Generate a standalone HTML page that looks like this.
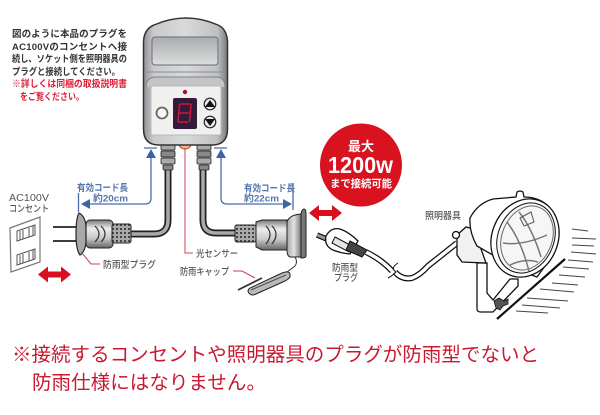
<!DOCTYPE html>
<html lang="ja">
<head>
<meta charset="utf-8">
<style>
html,body{margin:0;padding:0;background:#fff;width:600px;height:415px;overflow:hidden}
svg{display:block}
text{font-family:"Liberation Sans","Noto Sans CJK JP",sans-serif}
</style>
</head>
<body>
<svg xmlns="http://www.w3.org/2000/svg" width="600" height="415" viewBox="0 0 600 415">
<defs>
<linearGradient id="dev" x1="0" x2="1" y1="0" y2="0"><stop offset="0" stop-color="#8f9194"/><stop offset=".12" stop-color="#c9cacc"/><stop offset=".5" stop-color="#d8d9da"/><stop offset=".88" stop-color="#bfc0c2"/><stop offset="1" stop-color="#77797c"/></linearGradient>
<linearGradient id="rec" x1="0" x2="0" y1="0" y2="1"><stop offset="0" stop-color="#a9abad"/><stop offset="1" stop-color="#dcdddd"/></linearGradient>
<linearGradient id="pl" x1="0" x2="0" y1="0" y2="1"><stop offset="0" stop-color="#777"/><stop offset=".3" stop-color="#ececec"/><stop offset=".65" stop-color="#c8c8c8"/><stop offset="1" stop-color="#666"/></linearGradient>
<linearGradient id="sock" x1="0" x2="1" y1="0" y2="0"><stop offset="0" stop-color="#a8a8a8"/><stop offset=".5" stop-color="#e2e2e2"/><stop offset="1" stop-color="#7a7a7a"/></linearGradient>
<pattern id="grip" width="4" height="4" patternUnits="userSpaceOnUse"><rect width="4" height="4" fill="#aaa"/><rect width="2" height="2" fill="#444"/></pattern>
</defs>

<!-- cables -->
<path d="M168 168V220Q168 234 154 234H129" fill="none" stroke="#222" stroke-width="7"/>
<path d="M168 168V220Q168 234 154 234H129" fill="none" stroke="#aaa" stroke-width="3.500"/>
<path d="M203 168V220Q203 233 216 233H237" fill="none" stroke="#222" stroke-width="7"/>
<path d="M203 168V220Q203 233 216 233H237" fill="none" stroke="#aaa" stroke-width="3.500"/>

<!-- cable grips at device -->
<g stroke="#222" stroke-width=".8">
<rect x="161" y="144" width="14" height="6" rx="1" fill="#aaa"/><rect x="161" y="151" width="14" height="6" rx="1" fill="#888"/><rect x="161" y="158" width="14" height="6" rx="1" fill="#aaa"/><rect x="163" y="165" width="10" height="5" rx="1" fill="#888"/>
<rect x="197" y="144" width="14" height="6" rx="1" fill="#aaa"/><rect x="197" y="151" width="14" height="6" rx="1" fill="#888"/><rect x="197" y="158" width="14" height="6" rx="1" fill="#aaa"/><rect x="199" y="165" width="10" height="5" rx="1" fill="#888"/>
</g>
<path d="M179 144a6 5 0 0 0 12 0z" fill="#eeb894" stroke="#b5532f"/>

<!-- device -->
<path d="M143.500 42Q144 29 154 25Q186 11 218 25Q227 29 227.500 42V129Q227.500 145 212 145H159Q143.500 145 143.500 129Z" fill="url(#dev)" stroke="#333" stroke-width="1.500"/>
<rect x="152" y="37" width="66" height="28" rx="3" fill="url(#rec)" stroke="#6a6c6e"/>
<path d="M144 72H227" stroke="#8b8d90" stroke-width="1"/>
<path d="M146 87Q146 77 156 77H216Q225 77 225 87" fill="#c3c4c6" stroke="#808285"/>
<rect x="151" y="86" width="70" height="49" rx="2" fill="#f0f0ef" stroke="#b9babb"/>
<circle cx="185" cy="92" r="2.200" fill="#a5122a"/>
<rect x="173" y="98" width="24" height="31" rx="2" fill="#351a3a"/>
<path d="M180 104H191M179.500 104L178 122M178 122H188M179 113H189M191 104L189.500 122" stroke="#c01c3c" stroke-width="1.500" fill="none"/>
<circle cx="162" cy="113" r="5.500" fill="#f8f8f8" stroke="#666" stroke-width="1.800"/>
<circle cx="210" cy="104" r="5.800" fill="#e8e8e8" stroke="#222" stroke-width="1.200"/>
<path d="M210 100L215 107H205Z" fill="#111"/>
<circle cx="210" cy="122" r="5.800" fill="#e8e8e8" stroke="#222" stroke-width="1.200"/>
<path d="M210 126L215 119H205Z" fill="#111"/>

<!-- blue dimension lines -->
<g stroke="#4a6cac" fill="none" stroke-width="1.300">
<path d="M144 148H157M214 148H227"/>
<path d="M151 156V198Q151 204 145 204H88"/>
<path d="M221 156V198Q221 204 227 204H285"/>
<path d="M78.500 193V212M293 183V210"/>
</g>
<g fill="#3f63a8">
<path d="M151 149L156 158H146Z"/><path d="M221 149L226 158H216Z"/>
<path d="M81 204L90 199V209Z"/><path d="M292 204L283 199V209Z"/>
</g>
<g font-size="9.500" font-weight="700" fill="#5475b0">
<text x="77" y="191" textLength="51" lengthAdjust="spacingAndGlyphs">有効コード長</text>
<text x="93" y="201.500" textLength="35" lengthAdjust="spacingAndGlyphs">約20cm</text>
<text x="244" y="191.500" textLength="51" lengthAdjust="spacingAndGlyphs">有効コード長</text>
<text x="244" y="201.500" textLength="35" lengthAdjust="spacingAndGlyphs">約22cm</text>
</g>

<!-- left plug -->
<path d="M53 227H78M53 241H78" stroke="#222" stroke-width="1.800"/>
<rect x="86" y="220" width="27" height="28" rx="4" fill="url(#pl)" stroke="#222"/>
<path d="M95 226Q103 234 95 242M101 226Q109 234 101 242" fill="none" stroke="#333" stroke-width="1.200"/>
<rect x="112" y="224" width="19" height="19" rx="2" fill="url(#grip)" stroke="#222"/>
<path d="M79 213Q85 216 86 226V242Q85 252 80 255Q76 250 76 234Q76 218 79 213Z" fill="#a8a8a8" stroke="#222" stroke-width="1.200"/>

<!-- outlet -->
<path d="M10 228L40 217V262L11 272Z" fill="#fff" stroke="#777" stroke-width="1.200"/>
<g fill="#fff" stroke="#555" stroke-width="1">
<path d="M17 231L35 225V235L17 241Z"/>
<path d="M17 255L35 249V259L17 265Z"/>
<path d="M20 231V240M23 230V239M29 228V237M33 226V236M20 255V264M23 254V263M29 252V261M33 250V260"/>
</g>

<!-- red double arrows -->
<g fill="#d90f1f">
<path d="M38 274.500L48 266.500V271.500H61V266.500L71 274.500L61 282.500V277.500H48V282.500Z"/>
<path d="M309 213L319 205V210H332V205L342 213L332 221V216H319V221Z"/>
</g>

<!-- labels -->
<g font-size="9.500" fill="#555" font-weight="500">
<text x="9" y="201" textLength="40" lengthAdjust="spacingAndGlyphs" font-size="10.500">AC100V</text>
<text x="9" y="212" textLength="40" lengthAdjust="spacingAndGlyphs">コンセント</text>
<text x="103" y="268" textLength="53" lengthAdjust="spacingAndGlyphs">防雨型プラグ</text>
<text x="196" y="257" textLength="42" lengthAdjust="spacingAndGlyphs">光センサー</text>
<text x="180" y="275" textLength="49" lengthAdjust="spacingAndGlyphs">防雨キャップ</text>
<text x="332" y="271" textLength="26" lengthAdjust="spacingAndGlyphs">防雨型</text>
<text x="334" y="281" textLength="24" lengthAdjust="spacingAndGlyphs">プラグ</text>
<text x="425" y="219" textLength="36" lengthAdjust="spacingAndGlyphs">照明器具</text>
</g>

<!-- red leaders -->
<g fill="none" stroke="#d0405a" stroke-width="1">
<path d="M185 148V253H193"/>
<path d="M82 253L91 264H100"/>
<path d="M233 271H242L255 278"/>
</g>

<!-- right socket -->
<rect x="235" y="225" width="21" height="17" rx="2" fill="url(#grip)" stroke="#222"/>
<path d="M256 222L262 220H287V250H262L256 247Z" fill="url(#pl)" stroke="#222"/>
<path d="M266 226Q274 234 266 244M272 226Q280 234 272 244" fill="none" stroke="#333" stroke-width="1.200"/>
<path d="M287 222Q289 215 301 214V257H290Q287 256 287 250Z" fill="url(#sock)" stroke="#222"/>
<path d="M301 214Q302 209 304 209Q306 209 306 214V256Q306 258 301 258Z" fill="#777" stroke="#222"/>

<!-- rain cap -->
<path d="M295 257Q298 262 295 266L283 275" fill="none" stroke="#333" stroke-width="1"/>
<path d="M238 290L262 278" stroke="#333" stroke-width="1.800"/>
<path d="M250 294Q246 291 250 288L282 273Q290 270 290 275Q291 278 285 281L256 294Q252 296 250 294Z" fill="#b9b9b9" stroke="#222" stroke-width="1"/>
<path d="M251 290L286 275" stroke="#333" stroke-width=".8"/>

<!-- red circle -->
<ellipse cx="361" cy="165" rx="41" ry="41.500" fill="#d8121f"/>
<text x="361" y="151" font-size="13" font-weight="700" fill="#fff" text-anchor="middle">最大</text>
<text x="328" y="173" font-size="23" font-weight="700" fill="#fff" textLength="65" lengthAdjust="spacingAndGlyphs">1200w</text>
<text x="330" y="187" font-size="10.500" font-weight="700" fill="#fff" textLength="62" lengthAdjust="spacingAndGlyphs">まで接続可能</text>

<!-- right plug + cord -->
<path d="M366 252Q382 260 392 271" fill="none" stroke="#111" stroke-width="6"/>
<path d="M366 252Q382 260 392 271" fill="none" stroke="#fff" stroke-width="3.500"/>
<path d="M395 272Q402 280 412 278Q420 275 428 266L457 243" fill="none" stroke="#111" stroke-width="6"/>
<path d="M395 272Q402 280 412 278Q420 275 428 266L457 243" fill="none" stroke="#fff" stroke-width="3.500"/>
<path d="M398 263Q390 268 396 272Q392 276 388 278" fill="none" stroke="#111" stroke-width="1"/>
<path d="M317 235L329 240" stroke="#111" stroke-width="5.500"/>
<path d="M317 235L329 240" stroke="#999" stroke-width="3"/>
<path d="M326 236Q331 227 340 229Q349 232 358 241L350 254Q340 253 333 250Q324 246 326 236Z" fill="#fff" stroke="#111" stroke-width="1.300"/>
<path d="M335 237L352 246L349 252L332 243Z" fill="#e4e4e4" stroke="#111"/>
<path d="M350 241L367 250L362 257L346 250Z" fill="#444" stroke="#111"/>

<!-- lamp -->
<g fill="#fff" stroke="#111" stroke-width="1.300">
<path d="M477 263V309Q477 312 481 312H493L518 286V279L510 279L493 300L487 293V263Z"/>
<path d="M457 235L466 227L474 229L486 263L462 262L457 255Z" fill="#f1f1f1"/>
<circle cx="456" cy="235" r="3.500"/>
<path d="M470 218Q478 203 493 199L516 197L517 192Q520 190 523 192L524 197Q545 197 555 215Q562 232 553 255L537 277Q525 273 505 262L477 246Q469 232 470 218Z"/>
<ellipse cx="525" cy="238" rx="33" ry="40" transform="rotate(22 525 238)"/>
<ellipse cx="526" cy="238" rx="28" ry="36" transform="rotate(22 526 238)" fill="#f6f6f6" stroke-width="1"/>
<ellipse cx="527" cy="238" rx="25" ry="33" transform="rotate(22 527 238)" fill="#f6f6f6" stroke="#666" stroke-width="1"/>
</g>
<g fill="none" stroke="#777" stroke-width="1.500">
<path d="M507 222Q521 240 529 271M519 212Q532 228 541 257M503 243Q522 246 547 235M510 265Q525 258 538 262"/>
<path d="M520 218L531 212L534 222L524 226Z" stroke="#555" stroke-width="1"/>
</g>
<path d="M494 301L499 298L504 301L508 299V304L503 306L500 310L496 308Z" fill="#555" stroke="#111" stroke-width=".8"/>

<!-- wall -->
<path d="M565 259L497 319" stroke="#111" stroke-width="2.200"/>
<g stroke="#444" stroke-width="1.100">
<path d="M572 229L588 231M572 238L596 239M572 245L594 246M571 252L596 254M568 260L593 262M563 267L589 269M559 275L585 277M552 283L578 285M540 289L574 292M527 298L568 301M522 305L560 308M516 311L548 313"/>
</g>

<!-- instruction text -->
<g font-size="9.500" font-weight="700" fill="#333">
<text x="12" y="37" textLength="115" lengthAdjust="spacing">図のように本品のプラグを</text>
<text x="12" y="50" textLength="115" lengthAdjust="spacing">AC100Vのコンセントへ接</text>
<text x="12" y="62" textLength="115" lengthAdjust="spacingAndGlyphs">続し、ソケット側を照明器具の</text>
<text x="12" y="75" textLength="108" lengthAdjust="spacingAndGlyphs">プラグと接続してください。</text>
<text x="12" y="87" textLength="115" fill="#e01b35" lengthAdjust="spacingAndGlyphs">※詳しくは同梱の取扱説明書</text>
<text x="20" y="100" textLength="64" fill="#e01b35" lengthAdjust="spacingAndGlyphs">をご覧ください。</text>
</g>

<!-- bottom notice -->
<g font-size="19.500" fill="#c9182f">
<text x="12" y="361" textLength="527">※接続するコンセントや照明器具のプラグが防雨型でないと</text>
<text x="32" y="389" textLength="234">防雨仕様にはなりません。</text>
</g>
</svg>
</body>
</html>
